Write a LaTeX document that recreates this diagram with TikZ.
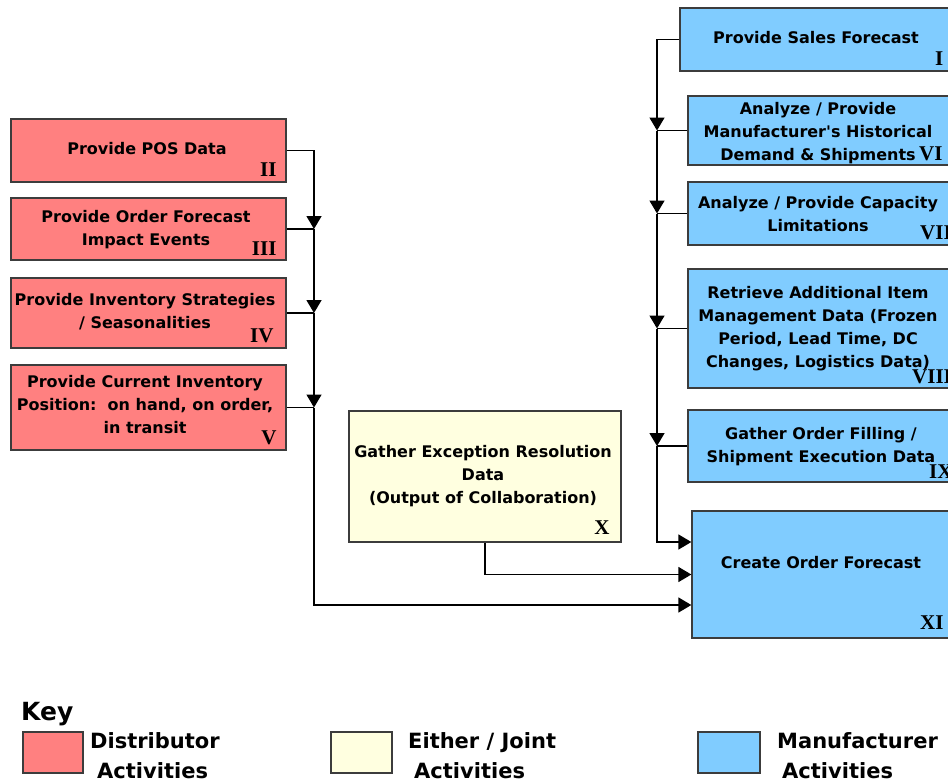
\documentclass[tikz,border=0pt]{standalone}
\usepackage{fontspec}
\newfontfamily\labelfont{DejaVu Sans}
\newfontfamily\numfont{Liberation Serif}
\usetikzlibrary{arrows.meta,calc}

\definecolor{distfill}{RGB}{255,128,128}
\definecolor{jointfill}{RGB}{255,255,224}
\definecolor{mfgfill}{RGB}{128,204,255}
\definecolor{boxedge}{RGB}{60,60,60}

\tikzset{
  actbox/.style={draw=boxedge, line width=1.3pt, rectangle, inner sep=0pt},
  distbox/.style={actbox, fill=distfill},
  jointbox/.style={actbox, fill=jointfill},
  mfgbox/.style={actbox, fill=mfgfill},
  txt/.style={align=center, inner sep=0pt, font=\labelfont\fontsize{16}{23}\selectfont\bfseries},
  roman/.style={inner sep=0pt, font=\numfont\fontsize{21}{21}\selectfont\bfseries},
  keytxt/.style={inner sep=0pt, anchor=base west, font=\labelfont\fontsize{21}{21}\selectfont\bfseries},
  link/.style={line width=1.5pt},
  flow/.style={link, -{Triangle[length=13pt,width=15pt]}},
}

\begin{document}
\begin{tikzpicture}[x=1pt,y=-1pt]
\useasboundingbox (0,0) rectangle (948,782);

% ---- distributor activities (left column)
\node[distbox, minimum width=275pt, minimum height=63pt] (II)  at (148.5,150.5) {};
\node[distbox, minimum width=275pt, minimum height=62pt] (III) at (148.5,229) {};
\node[distbox, minimum width=275pt, minimum height=70pt] (IV)  at (148.5,313) {};
\node[distbox, minimum width=275pt, minimum height=85pt] (V)   at (148.5,407.5) {};

\node[txt] (tII)  at (147,149) {Provide POS Data};
\node[txt] (tIII) at (146,230) {Provide Order Forecast\\Impact Events};
\node[txt] (tIV)  at (145,312) {Provide Inventory Strategies\\/ Seasonalities};
\node[txt] (tV)   at (145,405) {Provide Current Inventory\\Position:\ \ on hand, on order,\\in transit};

\node[roman, anchor=base east] (nII)  at ($(II.south east)+(-10,-6)$) {II};
\node[roman, anchor=base east] (nIII) at ($(III.south east)+(-10,-5)$) {III};
\node[roman, anchor=base east] (nIV)  at ($(IV.south east)+(-13,-6)$) {IV};
\node[roman, anchor=base east] (nV)   at ($(V.south east)+(-10,-6)$) {V};

% ---- joint activity
\node[jointbox, minimum width=272pt, minimum height=131pt] (X) at (485,476.5) {};
\node[txt] (tX) at (483,476) {Gather Exception Resolution\\Data\\(Output of Collaboration)};
\node[roman, anchor=base east] (nX) at ($(X.south east)+(-12,-8)$) {X};

% ---- manufacturer activities (right column, running off the page edge)
\node[mfgbox, minimum width=270pt, minimum height=63pt]  (I)    at (815,39.5) {};
\node[mfgbox, minimum width=262pt, minimum height=69pt]  (VI)   at (819,130.5) {};
\node[mfgbox, minimum width=262pt, minimum height=63pt]  (VII)  at (819,213.5) {};
\node[mfgbox, minimum width=262pt, minimum height=119pt] (VIII) at (819,328.5) {};
\node[mfgbox, minimum width=262pt, minimum height=72pt]  (IX)   at (819,446) {};
\node[mfgbox, minimum width=258pt, minimum height=127pt] (XI)   at (821,574.5) {};

\node[txt] (tI)    at (816,38)  {Provide Sales Forecast};
\node[txt] (tVI)   at (818,133) {Analyze / Provide\\Manufacturer's Historical\\Demand \& Shipments};
\node[txt] (tVII)  at (818,214) {Analyze / Provide Capacity\\Limitations};
\node[txt] (tVIII) at (818,329) {Retrieve Additional Item\\Management Data (Frozen\\Period, Lead Time, DC\\Changes, Logistics Data)};
\node[txt] (tIX)   at (821,447) {Gather Order Filling /\\Shipment Execution Data};
\node[txt] (tXI)   at (821,563) {Create Order Forecast};

\node[roman, anchor=base west] (nI)    at (935,65)  {I};
\node[roman, anchor=base west] (nVI)   at (919,160) {VI};
\node[roman, anchor=base west] (nVII)  at (920,239) {VII};
\node[roman, anchor=base west] (nVIII) at (912,383) {VIII};
\node[roman, anchor=base west] (nIX)   at (929,478) {IX};
\node[roman, anchor=base west] (nXI)   at (920,629) {XI};

% ---- collector lines
\coordinate (lspine) at (314,0);
\coordinate (rspine) at (657,0);
\coordinate (jIII) at (III.east -| lspine);
\coordinate (jIV)  at (IV.east -| lspine);
\coordinate (jV)   at (V.east -| lspine);
\coordinate (jVI)   at (VI.west -| rspine);
\coordinate (jVII)  at (VII.west -| rspine);
\coordinate (jVIII) at (VIII.west -| rspine);
\coordinate (jIX)   at (IX.west -| rspine);
\coordinate (inA) at ($(XI.west)+(0,-32.5)$);
\coordinate (inB) at ($(XI.west)+(0,0)$);
\coordinate (inC) at ($(XI.west)+(0,30.5)$);

\draw[flow] (II.east) -| (jIII);
\draw[link] (III.east) -- (jIII);
\draw[flow] (jIII) -- (jIV);
\draw[link] (IV.east) -- (jIV);
\draw[flow] (jIV) -- (jV);
\draw[link] (V.east) -- (jV);
\draw[flow] (jV) |- (inC);

\draw[flow] (I.west) -| (jVI);
\draw[link] (VI.west) -- (jVI);
\draw[flow] (jVI) -- (jVII);
\draw[link] (VII.west) -- (jVII);
\draw[flow] (jVII) -- (jVIII);
\draw[link] (VIII.west) -- (jVIII);
\draw[flow] (jVIII) -- (jIX);
\draw[link] (IX.west) -- (jIX);
\draw[flow] (jIX) |- (inA);

\draw[flow] (X.south) |- (inB);

% ---- key
\node[inner sep=0pt, anchor=base west, font=\labelfont\fontsize{25}{25}\selectfont\bfseries] (key) at (21,720) {Key};
\node[distbox,  minimum width=60pt, minimum height=41pt] (kdist)  at (53,752.5) {};
\node[jointbox, minimum width=61pt, minimum height=41pt] (kjoint) at (361.5,752.5) {};
\node[mfgbox,   minimum width=62pt, minimum height=41pt] (kmfg)   at (729,752.5) {};
\node[keytxt] (kd1) at (90,748)  {Distributor};
\node[keytxt] (kd2) at (97,778)  {Activities};
\node[keytxt] (kj1) at (408,748) {Either / Joint};
\node[keytxt] (kj2) at (414,778) {Activities};
\node[keytxt] (km1) at (777,748) {Manufacturer};
\node[keytxt] (km2) at (782,778) {Activities};
\end{tikzpicture}
\end{document}
